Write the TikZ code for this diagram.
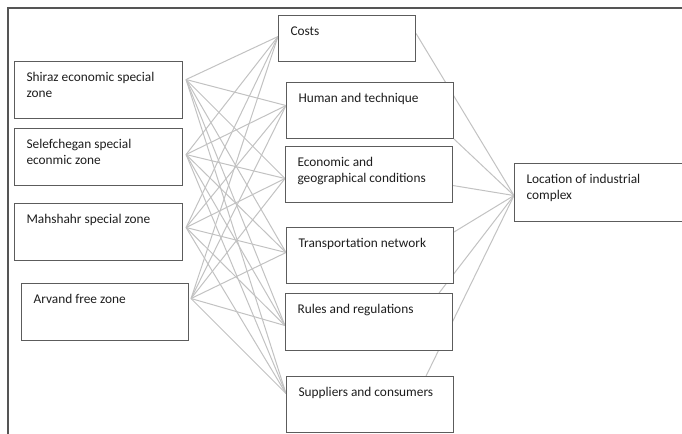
\documentclass[tikz,border=0pt]{standalone}
\usepackage{fontspec}
\setmainfont{Carlito}
\usetikzlibrary{backgrounds}

\definecolor{framegray}{HTML}{555555}
\definecolor{boxgray}{HTML}{5C5C5C}
\definecolor{linkgray}{HTML}{C2C2C2}
\definecolor{textgray}{HTML}{1E1E1E}

\tikzset{
  cell/.style 2 args={draw=boxgray, line width=0.8pt, fill=white, anchor=north west,
    inner xsep=9pt, inner ysep=7.5pt, text=textgray,
    execute at begin node={\begin{minipage}[t][\dimexpr0.75pt*#2-15pt\relax][t]{\dimexpr0.75pt*#1-18pt\relax}%
      \raggedright\fontsize{10}{12.2}\selectfont\leavevmode\rule{0pt}{7.2pt}},
    execute at end node={\end{minipage}}},
  link/.style={draw=linkgray, line width=0.75pt}
}

\begin{document}
\begin{tikzpicture}[x=0.75pt,y=-0.75pt]
\useasboundingbox (0,0) rectangle (682,434);

% zones
\node[cell={168}{57}] (shiraz) at (14,61) {Shiraz economic special\\zone};
\node[cell={168}{57}] (selef) at (14,128) {Selefchegan special\\econmic zone};
\node[cell={168}{57}] (mahshahr) at (14,203) {Mahshahr special zone};
\node[cell={167}{57}] (arvand) at (21,283) {Arvand free zone};

% factors
\node[cell={137}{46}] (costs) at (278,15) {Costs};
\node[cell={167}{56}] (human) at (286,82) {Human and technique};
\node[cell={167}{56}] (econ) at (285,146) {Economic and\\geographical conditions};
\node[cell={167}{56}] (transport) at (286,227) {Transportation network};
\node[cell={167}{57}] (rules) at (285,293) {Rules and regulations};
\node[cell={167}{56}] (suppliers) at (286,376) {Suppliers and consumers};

% result
\node[cell={168}{58}] (location) at (514,163) {Location of industrial\\complex};
\coordinate (location-in) at ([shift={(0,3)}]location.west);

\begin{scope}[on background layer]
\draw[framegray, line width=1.5pt] (8,434) -- (8,8) -- (682,8);
\foreach \src/\sx/\sy in {shiraz/3/-10.5, selef/3/-2.5, mahshahr/3/-4.5, arvand/2/-13.5}
  \foreach \dst/\dy in {costs/-2, human/-5, econ/4, transport/-3, rules/3.5, suppliers/-11}
    \draw[link] ([shift={(\sx,\sy)}]\src.east) -- ([shift={(0,\dy)}]\dst.west);
\draw[link] ([shift={(0,-5)}]costs.east) -- (location-in);
\draw[link] (human.south east) -- (location-in);
\draw[link] ([shift={(0,11)}]econ.east) -- (location-in);
\draw[link] ([shift={(0,5)}]transport.north east) -- (location-in);
\draw[link] ([shift={(-14,0)}]rules.north east) -- (location-in);
\draw[link] ([shift={(-28,0)}]suppliers.north east) -- (location-in);
\end{scope}
\end{tikzpicture}
\end{document}
